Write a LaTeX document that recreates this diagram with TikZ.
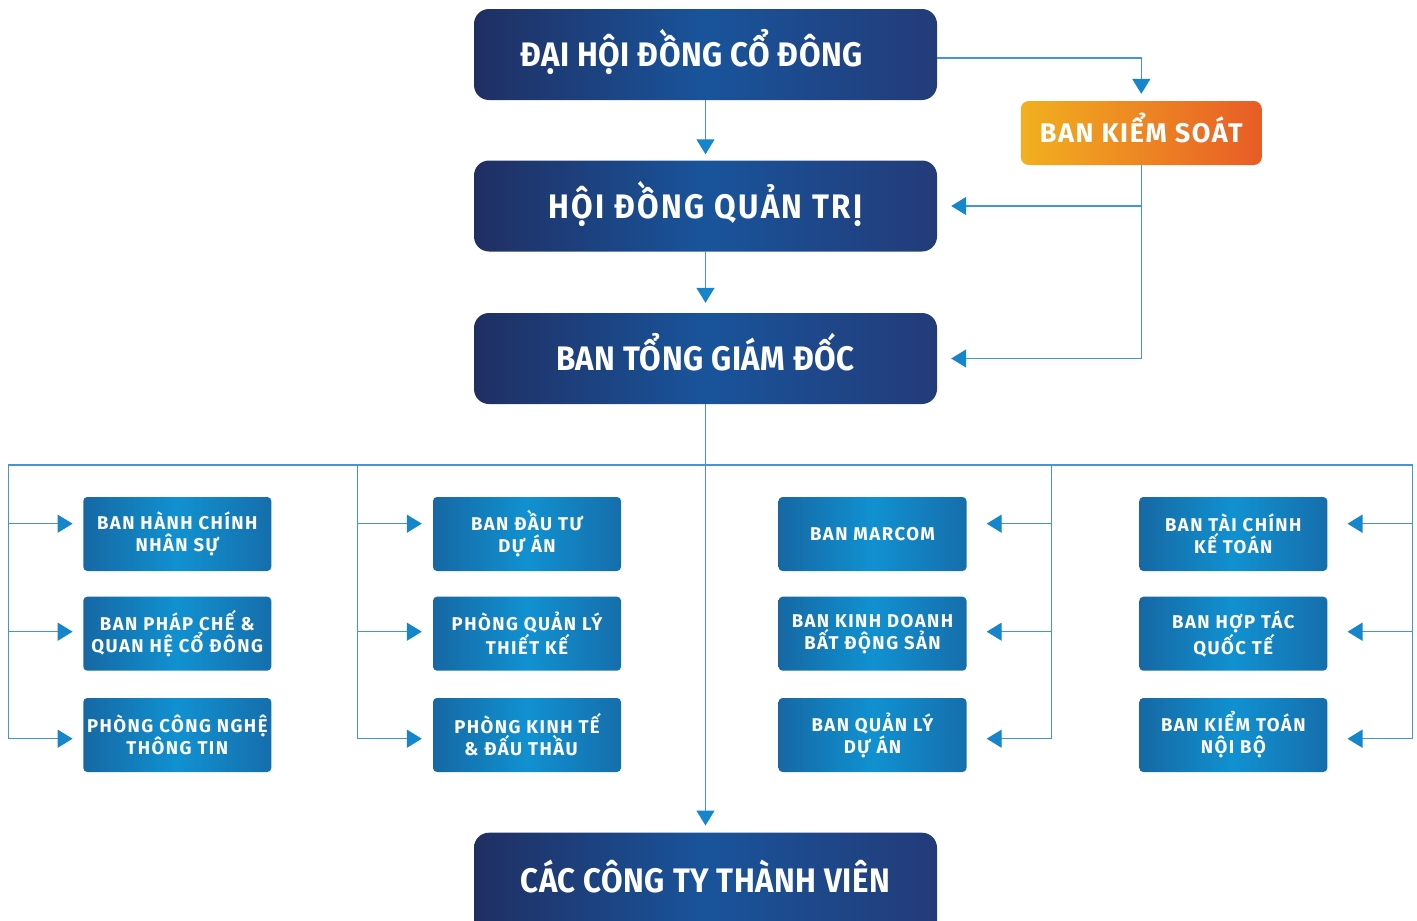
\documentclass[tikz,border=0pt]{standalone}
\usepackage{fontspec}
\setmainfont{Fira Sans}
\newfontfamily\dinfont[FakeStretch=0.92]{Fira Sans}
\newfontfamily\dinwide{Fira Sans}
\usetikzlibrary{arrows.meta}
\definecolor{navyL}{RGB}{32,47,99}
\definecolor{navyM}{RGB}{25,84,155}
\definecolor{navyR}{RGB}{35,59,121}
\definecolor{orgL}{RGB}{242,176,31}
\definecolor{orgR}{RGB}{232,92,38}
\definecolor{bluL}{RGB}{22,104,164}
\definecolor{bluM}{RGB}{17,145,209}
\definecolor{bluR}{RGB}{22,110,172}
\definecolor{conn}{RGB}{66,150,214}
\definecolor{tipc}{RGB}{22,134,204}
\tikzset{
  bigbox/.style={rounded corners=15pt, minimum width=463pt, minimum height=91pt,
    left color=navyL, right color=navyR, middle color=navyM, text=white, inner sep=0pt,
    text height=24pt, text depth=0pt,
    font=\dinfont\bfseries\fontsize{34}{40}\selectfont\addfontfeature{LetterSpace=1.5}},
  orgbox/.style={rounded corners=8pt, minimum width=241pt, minimum height=64pt,
    left color=orgL, right color=orgR, text=white, inner sep=0pt,
    text height=19.5pt, text depth=0pt,
    font=\dinwide\bfseries\fontsize{27}{32}\selectfont\addfontfeature{LetterSpace=6}},
  subbox/.style={rounded corners=4pt, minimum width=188pt, minimum height=74pt,
    left color=bluL, right color=bluR, middle color=bluM, text=white, inner sep=0pt,
    align=center, font=\dinwide\bfseries\fontsize{18.5}{22}\selectfont\addfontfeature{LetterSpace=8}},
  line/.style={conn, line width=1.4pt},
  arr/.style={conn, line width=1.4pt, -{Triangle[width=18pt,length=15pt,color=tipc]}},
}
\begin{document}
\begin{tikzpicture}[x=1pt,y=-1pt]
\clip (0,0) rectangle (1417,921);
% main boxes
\node[bigbox] (dh) at (705.5,54.5) {ĐẠI HỘI ĐỒNG CỔ ĐÔNG\hspace*{28pt}};
\node[bigbox, font=\dinfont\bfseries\fontsize{34}{40}\selectfont\addfontfeature{LetterSpace=7}] (hd) at (705.5,206) {HỘI ĐỒNG QUẢN TRỊ};
\node[bigbox] (tg) at (705.5,358.5) {BAN TỔNG GIÁM ĐỐC};
\node[bigbox, minimum height=110pt, anchor=north, text depth=15pt] (ct) at (705.5,832.5) {CÁC CÔNG TY THÀNH VIÊN};
\node[orgbox] (bks) at (1141.3,133) {BAN KIỂM SOÁT};
% sub boxes
\node[subbox] (b11) at (177.3,534) {BAN HÀNH CHÍNH\\NHÂN SỰ};
\node[subbox] (b12) at (177.3,633.7) {BAN PHÁP CHẾ \&\\QUAN HỆ CỔ ĐÔNG};
\node[subbox] (b13) at (177.3,735) {PHÒNG CÔNG NGHỆ\\THÔNG TIN};
\node[subbox] (b21) at (527,534) {BAN ĐẦU TƯ\\DỰ ÁN};
\node[subbox] (b22) at (527,633.7) {PHÒNG QUẢN LÝ\\THIẾT KẾ};
\node[subbox] (b23) at (527,735) {PHÒNG KINH TẾ\\\& ĐẤU THẦU\hspace*{12pt}};
\node[subbox] (b31) at (872.5,534) {BAN MARCOM};
\node[subbox] (b32) at (872.5,633.7) {BAN KINH DOANH\\BẤT ĐỘNG SẢN};
\node[subbox] (b33) at (872.5,735) {BAN QUẢN LÝ\\DỰ ÁN};
\node[subbox] (b41) at (1233.3,534) {BAN TÀI CHÍNH\\KẾ TOÁN};
\node[subbox] (b42) at (1233.3,633.7) {BAN HỢP TÁC\\QUỐC TẾ};
\node[subbox] (b43) at (1233.3,735) {BAN KIỂM TOÁN\\NỘI BỘ};
% top connectors
\draw[arr, shorten >=7pt] ([yshift=-3.5pt]dh.east) -| (bks.north);
\draw[arr, shorten >=6pt] (dh.south) -- (hd.north);
\draw[arr, shorten >=10pt] (hd.south) -- (tg.north);
\draw[line] (bks.south) -- (bks.south |- tg.east);
\draw[arr, shorten >=14pt] (bks.south |- hd.east) -- (hd.east);
\draw[arr, shorten >=14pt] (bks.south |- tg.east) -- (tg.east);
\draw[arr, shorten >=7pt] (tg.south) -- (ct.north);
% bus
\coordinate (busL) at (8.3,465);
\coordinate (busR) at (1412.5,465);
\coordinate (bus2) at (357.5,465);
\coordinate (bus3) at (1051.5,465);
\draw[line] (busL) -- (busR);
\foreach \c/\x in {1/8.3,2/357.5,3/1051.5,4/1412.5}{
  \coordinate (r\c1) at (\x,523.7);
  \coordinate (r\c2) at (\x,631.7);
  \coordinate (r\c3) at (\x,738.7);
}
\draw[line] (busL) -- (r13);
\draw[line] (bus2) -- (r23);
\draw[line] (bus3) -- (r33);
\draw[line] (busR) -- (r43);
\foreach \r in {1,2,3}{
  \draw[arr, shorten >=10.5pt] (r1\r) -- (r1\r -| b1\r.west);
  \draw[arr, shorten >=11pt] (r2\r) -- (r2\r -| b2\r.west);
  \draw[arr, shorten >=20pt] (r3\r) -- (r3\r -| b3\r.east);
  \draw[arr, shorten >=20pt] (r4\r) -- (r4\r -| b4\r.east);
}
\end{tikzpicture}
\end{document}
